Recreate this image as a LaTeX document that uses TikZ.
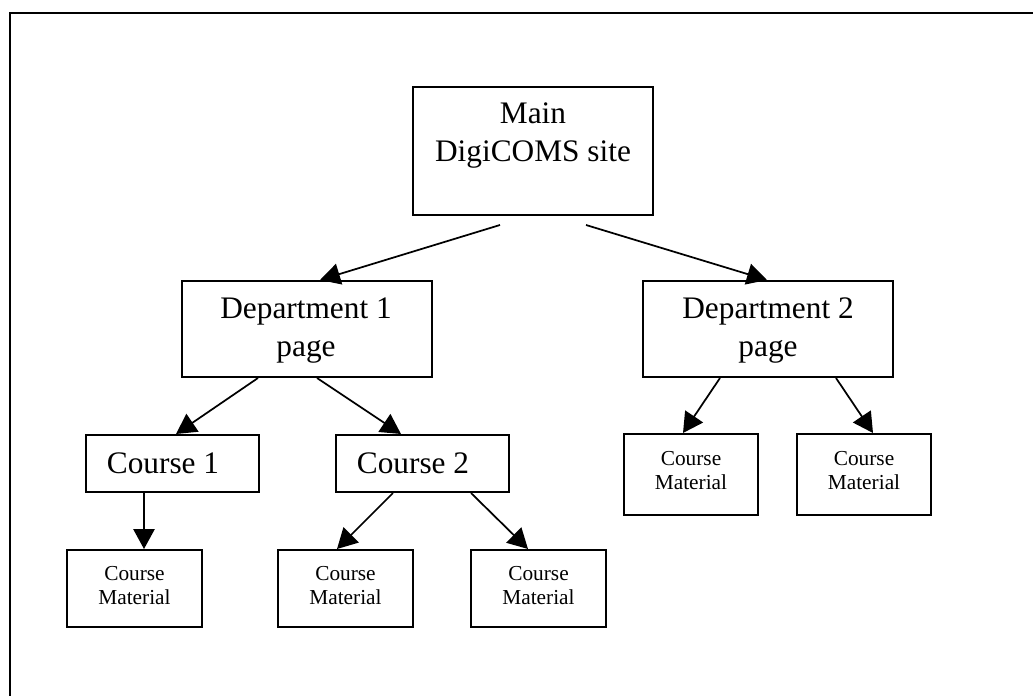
\documentclass[tikz,border=0pt]{standalone}
\usepackage{fontspec}
\setmainfont{Liberation Serif}
\usetikzlibrary{arrows.meta,calc}
\begin{document}
\begin{tikzpicture}[x=0.75pt,y=-0.75pt,
  box/.style={draw,line width=1.5pt,rectangle,inner sep=0pt},
  big/.style={font=\fontsize{23.5}{28.5}\selectfont,align=center,inner sep=0pt},
  small/.style={font=\fontsize{16}{18}\selectfont,align=center,inner sep=0pt},
  arr/.style={line width=1.3pt,-{Triangle[length=15pt,width=16pt]}},
  frame/.style={line width=1.5pt}]
\useasboundingbox (0,0) rectangle (1033,696);
% frame
\coordinate (fa) at (10,696);
\coordinate (fb) at (10,12.5);
\coordinate (fc) at (1033,12.5);
\draw[frame] (fa) -- (fb) -- (fc);
% boxes
\node[box,minimum width=180pt,minimum height=96pt] (main) at (533,151) {};
\node[big] (maintext) at (533,136) {Main\\DigiCOMS site};
\node[box,minimum width=187.5pt,minimum height=72pt] (d1) at (307,329) {};
\node[big] (d1text) at (306,331) {Department 1\\page};
\node[box,minimum width=187.5pt,minimum height=72pt] (d2) at (768,329) {};
\node[big] (d2text) at (768,331) {Department 2\\page};
\node[box,minimum width=129.75pt,minimum height=42.75pt] (c1) at (172.5,463.5) {};
\node[big] (c1text) at (163,463) {Course 1};
\node[box,minimum width=129.75pt,minimum height=42.75pt] (c2) at (422.5,463.5) {};
\node[big] (c2text) at (413,463) {Course 2};
\node[box,minimum width=100.5pt,minimum height=60.75pt] (m4) at (691,474.5) {};
\node[small] (m4text) at (691,471) {Course\\Material};
\node[box,minimum width=100.5pt,minimum height=60.75pt] (m5) at (864,474.5) {};
\node[small] (m5text) at (864,471) {Course\\Material};
\node[box,minimum width=101.25pt,minimum height=57.75pt] (m1) at (134.5,588.5) {};
\node[small] (m1text) at (134.5,586) {Course\\Material};
\node[box,minimum width=101.25pt,minimum height=57.75pt] (m2) at (345.5,588.5) {};
\node[small] (m2text) at (345.5,586) {Course\\Material};
\node[box,minimum width=101.25pt,minimum height=57.75pt] (m3) at (538.5,588.5) {};
\node[small] (m3text) at (538.5,586) {Course\\Material};
% connectors
\draw[arr] ($(main.south)+(-33,9)$) -- ($(d1.north)+(13,0)$);
\draw[arr] ($(main.south)+(53,9)$) -- ($(d2.north)+(-1,0)$);
\draw[arr] ($(d1.south)+(-49,0)$) -- ($(c1.north)+(3.5,0)$);
\draw[arr] ($(d1.south)+(10,0)$) -- ($(c2.north)+(-21.5,0)$);
\draw[arr] ($(d2.south)+(-48,0)$) -- ($(m4.north)+(-8,0)$);
\draw[arr] ($(d2.south)+(68,0)$) -- ($(m5.north)+(9,0)$);
\draw[arr] ($(c1.south)+(-28.5,0)$) -- ($(m1.north)+(9.5,0)$);
\draw[arr] ($(c2.south)+(-29.5,0)$) -- ($(m2.north)+(-8.5,0)$);
\draw[arr] ($(c2.south)+(48.5,0)$) -- ($(m3.north)+(-10.5,0)$);
\end{tikzpicture}
\end{document}
